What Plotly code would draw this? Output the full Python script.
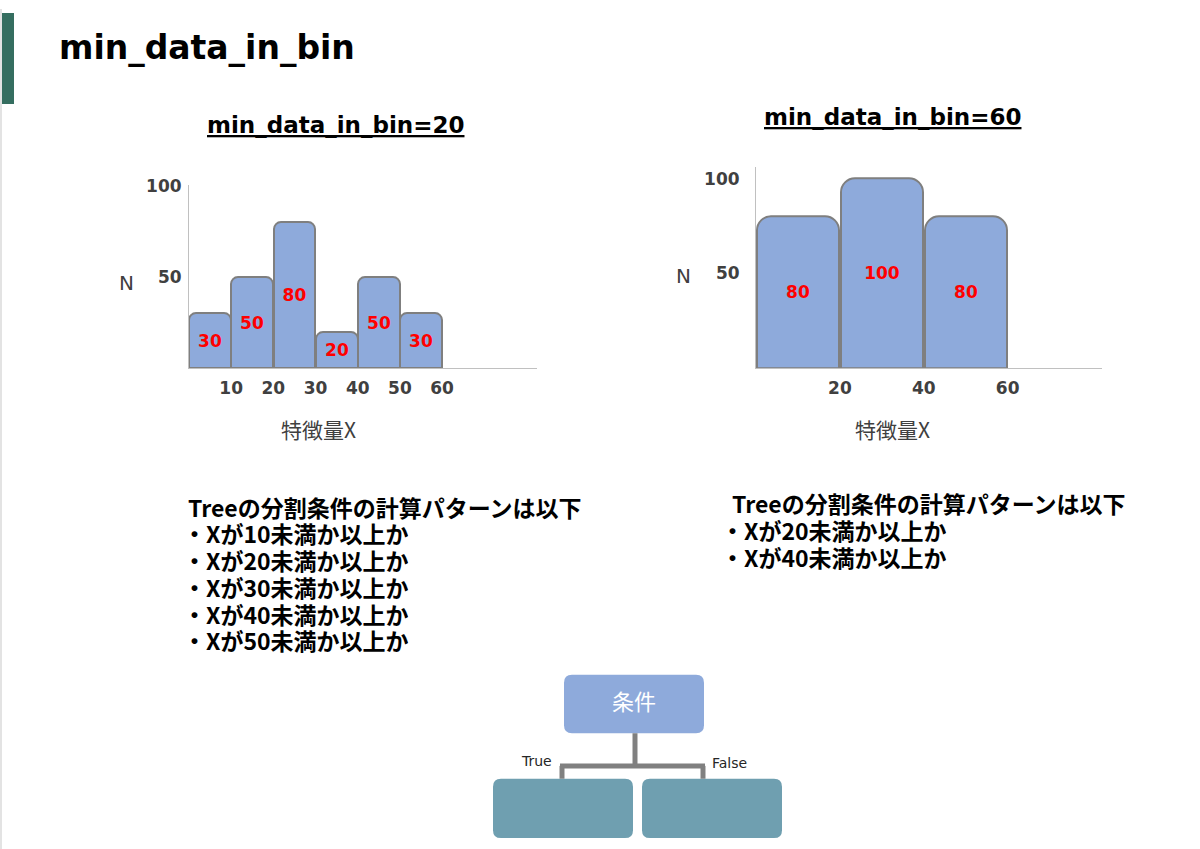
import plotly.graph_objects as go

W, H = 1200, 849
Y_SHIFT_TOP = -4  # vertical nudge (pixels) for the upper part of the slide

# ---------------- data ----------------
left_centers = [5, 15, 25, 35, 45, 55]
left_counts = [30, 50, 80, 20, 50, 30]
left_xticks = [10, 20, 30, 40, 50, 60]

right_centers = [10, 30, 50]
right_counts = [80, 100, 80]
right_xticks = [20, 40, 60]

y_ticks = [50, 100]

page_title = "min_data_in_bin"
left_title = "min_data_in_bin=20"
right_title = "min_data_in_bin=60"
x_label = "特徴量X"
y_label = "N"

left_lines = [
    "Treeの分割条件の計算パターンは以下",
    "・Xが10未満か以上か",
    "・Xが20未満か以上か",
    "・Xが30未満か以上か",
    "・Xが40未満か以上か",
    "・Xが50未満か以上か",
]
right_lines = [
    "Treeの分割条件の計算パターンは以下",
    "・Xが20未満か以上か",
    "・Xが40未満か以上か",
]

# ---------------- helpers ----------------
def px(x):
    return x / W


def py(y):
    shift = Y_SHIFT_TOP if y < 660 else 0
    return 1 - (y + shift) / H


def rrect(x0, y0, x1, y1, r):
    """rounded rectangle path in paper coords from pixel coords"""
    pts = [
        f"M {px(x0 + r)},{py(y0)}",
        f"L {px(x1 - r)},{py(y0)}",
        f"Q {px(x1)},{py(y0)} {px(x1)},{py(y0 + r)}",
        f"L {px(x1)},{py(y1 - r)}",
        f"Q {px(x1)},{py(y1)} {px(x1 - r)},{py(y1)}",
        f"L {px(x0 + r)},{py(y1)}",
        f"Q {px(x0)},{py(y1)} {px(x0)},{py(y1 - r)}",
        f"L {px(x0)},{py(y0 + r)}",
        f"Q {px(x0)},{py(y0)} {px(x0 + r)},{py(y0)}",
        "Z",
    ]
    return " ".join(pts)


BAR_COLOR = "#8eaadb"
BAR_LINE = "#7f7f7f"
AX_COLOR = "#c0c0c0"
TXT_GRAY = "#404040"
LATIN = "DejaVu Sans"
CJK = "Noto Sans CJK JP"

tickfont = dict(family=LATIN, size=17, color=TXT_GRAY, weight="bold")

fig = go.Figure()

fig.add_trace(go.Bar(
    x=left_centers, y=left_counts, width=9.9,
    marker=dict(color=BAR_COLOR, line=dict(color=BAR_LINE, width=2), cornerradius=7),
    texttemplate="%{y}", textposition="inside", insidetextanchor="middle",
    textangle=0, constraintext="none",
    textfont=dict(family=LATIN, size=17, color="#ff0000", weight="bold"),
    hoverinfo="skip", showlegend=False, xaxis="x", yaxis="y",
))
fig.add_trace(go.Bar(
    x=right_centers, y=right_counts, width=19.6,
    marker=dict(color=BAR_COLOR, line=dict(color=BAR_LINE, width=2), cornerradius=14),
    texttemplate="%{y}", textposition="inside", insidetextanchor="middle",
    textangle=0, constraintext="none",
    textfont=dict(family=LATIN, size=17, color="#ff0000", weight="bold"),
    hoverinfo="skip", showlegend=False, xaxis="x2", yaxis="y2",
))

common_x = dict(showline=True, linecolor=AX_COLOR, linewidth=1, showgrid=False,
                zeroline=False, ticks="", tickfont=tickfont, ticklabelstandoff=4,
                fixedrange=True)
common_y = dict(showline=True, linecolor=AX_COLOR, linewidth=1, showgrid=False,
                zeroline=False, ticks="", tickfont=tickfont, tickvals=y_ticks,
                fixedrange=True)

fig.update_layout(
    width=W, height=H, margin=dict(l=0, r=0, t=0, b=0),
    paper_bgcolor="white", plot_bgcolor="white", bargap=0,
    xaxis=dict(domain=[px(189), px(537)], range=[0, 82.5], tickvals=left_xticks,
               anchor="y", **common_x),
    yaxis=dict(domain=[py(367), py(182)], range=[0, 100.5], anchor="x",
               ticklabelstandoff=3, **common_y),
    xaxis2=dict(domain=[px(756), px(1102)], range=[0, 82.5], tickvals=right_xticks,
                anchor="y2", **common_x),
    yaxis2=dict(domain=[py(367), py(164)], range=[0, 106], anchor="x2",
                ticklabelstandoff=12, **common_y),
)

shapes = []
# slide left edge decorations
shapes.append(dict(type="rect", xref="paper", yref="paper", x0=0, x1=px(2), y0=0, y1=1,
                   fillcolor="#e3e3e3", line=dict(width=0), layer="below"))
shapes.append(dict(type="rect", xref="paper", yref="paper", x0=px(2), x1=px(14), y0=py(100), y1=py(8),
                   fillcolor="#356e60", line=dict(width=0), layer="below"))
# tree diagram
shapes.append(dict(type="path", xref="paper", yref="paper", path=rrect(564, 673, 704, 732, 8),
                   fillcolor="#8eaadb", line=dict(width=0)))
shapes.append(dict(type="path", xref="paper", yref="paper", path=rrect(493, 778, 633, 838, 8),
                   fillcolor="#6f9fb0", line=dict(width=0)))
shapes.append(dict(type="path", xref="paper", yref="paper", path=rrect(642, 778, 782, 838, 8),
                   fillcolor="#6f9fb0", line=dict(width=0)))
conn = dict(color="#808080", width=5)
for (x0, y0, x1, y1) in [(635, 732, 635, 765), (560, 765, 705, 765),
                         (562, 765, 562, 778), (703, 765, 703, 778)]:
    shapes.append(dict(type="line", xref="paper", yref="paper",
                       x0=px(x0), y0=py(y0), x1=px(x1), y1=py(y1), line=conn))
fig.update_layout(shapes=shapes)

ann = []


def add_text(text, x, y, size, family, color="#000000", weight="normal", xanchor="center", height=None):
    a = dict(text=text, x=px(x), y=py(y), xref="paper", yref="paper",
             xanchor=xanchor, yanchor="middle", showarrow=False, borderpad=0,
             font=dict(family=family, size=size, color=color, weight=weight))
    if height is not None:
        a["height"] = height
    ann.append(a)


add_text(page_title, 58, 43, 33, LATIN, weight="bold", xanchor="left")
add_text(f'<span style="text-decoration:underline">{left_title}</span>', 335, 121, 23, LATIN, weight="bold")
add_text(f'<span style="text-decoration:underline">{right_title}</span>', 892, 113, 23, LATIN, weight="bold")

add_text(y_label, 126, 281, 20, LATIN, color=TXT_GRAY)
add_text(y_label, 683, 274, 20, LATIN, color=TXT_GRAY)
add_text(x_label, 318, 429, 21, CJK, color=TXT_GRAY)
add_text(x_label, 892, 429, 21, CJK, color=TXT_GRAY)

for i, line in enumerate(left_lines):
    add_text(line, 187 if i == 0 else 182, 507 + 27 * i, 23, CJK, weight="bold",
             xanchor="left", height=26)
for i, line in enumerate(right_lines):
    add_text(line, 731 if i == 0 else 720, 503 + 27.5 * i, 23, CJK, weight="bold",
             xanchor="left", height=26)

add_text("条件", 634, 698, 22, CJK, color="#ffffff")
add_text("True", 536, 760, 14, LATIN, color="#262626")
add_text("False", 729, 762, 14, LATIN, color="#262626")

fig.update_layout(annotations=ann)

fig.write_html("out.html", include_plotlyjs=True, config={"displayModeBar": False},
               post_script="document.body.style.margin='0';document.body.style.overflow='hidden';")
